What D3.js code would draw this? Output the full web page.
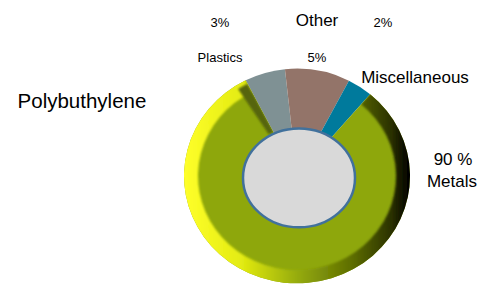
<!DOCTYPE html>
<html>
<head>
<meta charset="utf-8">
<script src="https://cdn.jsdelivr.net/npm/d3@7"></script>
<style>
  body { margin: 0; background: #fff; }
  text { font-family: "Liberation Sans", Arial, sans-serif; fill: #000; }
</style>
</head>
<body>
<div id="chart"></div>
<script>
var width = 490, height = 284;

// slices, in drawing order (clockwise from the gray one)
var categories = ["Plastics", "Other", "Miscellaneous", "Metals"];
var shares = [5.8, 9.3, 3.6, 81.3];          // sizes as drawn in the picture
var pctLabels = ["3%", "5%", "2%", "90 %"];  // percentages as printed
var colors = ["#7f9194", "#937469", "#007a9c", "#8ea70c"];
var title = "Polybuthylene";

var cx = 297, cy = 176, R = 113;
var startA = -27 * Math.PI / 180;

var svg = d3.select("#chart").append("svg")
    .attr("width", width)
    .attr("height", height);

var defs = svg.append("defs");
var bevel = defs.append("linearGradient")
    .attr("id", "bevel")
    .attr("gradientUnits", "userSpaceOnUse")
    .attr("x1", -R).attr("y1", 0)
    .attr("x2", R).attr("y2", 0);
bevel.append("stop").attr("offset", 0).attr("stop-color", "#ffff2a");
bevel.append("stop").attr("offset", 0.25).attr("stop-color", "#e4ec12");
bevel.append("stop").attr("offset", 0.5).attr("stop-color", "#96ac0a");
bevel.append("stop").attr("offset", 0.75).attr("stop-color", "#5c6c04");
bevel.append("stop").attr("offset", 0.92).attr("stop-color", "#2a3000");
bevel.append("stop").attr("offset", 1).attr("stop-color", "#000");

defs.append("filter").attr("id", "soft")
  .append("feGaussianBlur").attr("stdDeviation", 1.2);

var pie = d3.pie().sort(null)
    .startAngle(startA)
    .endAngle(startA + 2 * Math.PI);
var arcs = pie(shares);

var g = svg.append("g")
    .attr("transform", "translate(" + cx + "," + cy + ") scale(1,0.95)");

var arc = d3.arc().innerRadius(0).outerRadius(R);

g.selectAll("path.slice")
  .data(arcs)
  .enter()
  .append("path")
  .attr("class", "slice")
  .attr("d", arc)
  .attr("fill", function(d, i) { return colors[i]; });

// 3d rim on the big slice
var metals = arcs[3];
var clip = defs.append("clipPath").attr("id", "rimclip");
clip.append("path").attr("d", d3.arc().innerRadius(0).outerRadius(R)(metals));

var rim = g.append("g").attr("clip-path", "url(#rimclip)");
rim.append("path")
  .attr("d", d3.arc().innerRadius(R - 14).outerRadius(R + 4)(metals))
  .attr("fill", "url(#bevel)")
  .attr("filter", "url(#soft)");

// dark side face where metals meets plastics
rim.append("path")
  .attr("d", d3.arc().innerRadius(52).outerRadius(R - 4)
    ({startAngle: metals.endAngle - 0.1, endAngle: metals.endAngle}))
  .attr("fill", "#56650a")
  .attr("filter", "url(#soft)");

// hole
g.append("ellipse")
  .attr("cx", 2).attr("cy", 2)
  .attr("rx", 56).attr("ry", 52)
  .attr("fill", "#d9d9d9")
  .attr("stroke", "#41719c")
  .attr("stroke-width", 2.5);

// labels
var catPos = [[220, 62, 13], [317, 26, 17], [415, 83, 17], [452, 187, 17]];
var pctPos = [[220, 27, 13], [317, 62, 13], [383, 27, 13], [453, 165, 17]];

svg.selectAll("text.cat")
  .data(categories)
  .enter()
  .append("text")
  .attr("class", "cat")
  .attr("x", function(d, i) { return catPos[i][0]; })
  .attr("y", function(d, i) { return catPos[i][1]; })
  .attr("text-anchor", "middle")
  .style("font-size", function(d, i) { return catPos[i][2] + "px"; })
  .text(function(d) { return d; });

svg.selectAll("text.pct")
  .data(pctLabels)
  .enter()
  .append("text")
  .attr("class", "pct")
  .attr("x", function(d, i) { return pctPos[i][0]; })
  .attr("y", function(d, i) { return pctPos[i][1]; })
  .attr("text-anchor", "middle")
  .style("font-size", function(d, i) { return pctPos[i][2] + "px"; })
  .text(function(d) { return d; });

svg.append("text")
  .attr("x", 82)
  .attr("y", 108)
  .attr("text-anchor", "middle")
  .style("font-size", "20.5px")
  .text(title);
</script>
</body>
</html>
